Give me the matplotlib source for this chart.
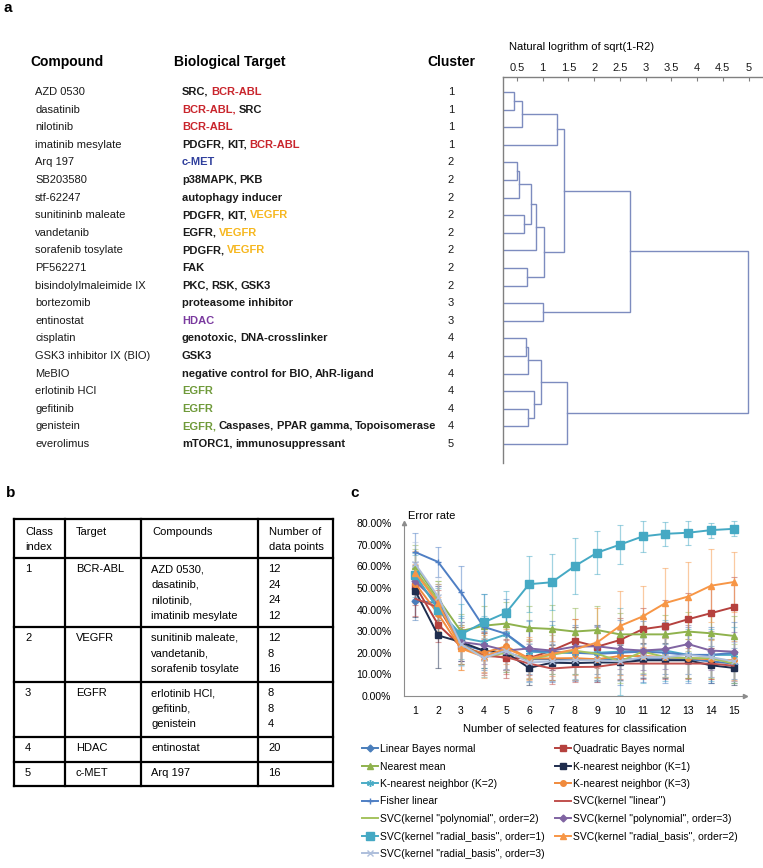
import numpy as np
import matplotlib

matplotlib.use('Agg')
import matplotlib.pyplot as plt

plt.rcParams['font.family'] = ['Liberation Sans', 'DejaVu Sans']
plt.rcParams['font.size'] = 8

W, H = 763, 868

# ---- panel a : compounds, targets, clusters
compounds = ['AZD 0530', 'dasatinib', 'nilotinib', 'imatinib mesylate', 'Arq 197',
             'SB203580', 'stf-62247', 'sunitininb maleate', 'vandetanib',
             'sorafenib tosylate', 'PF562271', 'bisindolylmaleimide IX', 'bortezomib',
             'entinostat', 'cisplatin', 'GSK3 inhibitor IX (BIO)', 'MeBIO',
             'erlotinib HCl', 'gefitinib', 'genistein', 'everolimus']
targets = ['SRC, BCR-ABL', 'BCR-ABL, SRC', 'BCR-ABL', 'PDGFR, KIT, BCR-ABL', 'c-MET',
           'p38MAPK, PKB', 'autophagy inducer', 'PDGFR, KIT, VEGFR', 'EGFR, VEGFR',
           'PDGFR, VEGFR', 'FAK', 'PKC, RSK, GSK3', 'proteasome inhibitor', 'HDAC',
           'genotoxic, DNA-crosslinker', 'GSK3', 'negative control for BIO, AhR-ligand',
           'EGFR', 'EGFR', 'EGFR, Caspases, PPAR gamma, Topoisomerase',
           'mTORC1, immunosuppressant']
highlight = ['BCR-ABL', 'BCR-ABL', 'BCR-ABL', 'BCR-ABL', 'c-MET', None, None, 'VEGFR',
             'VEGFR', 'VEGFR', None, None, None, 'HDAC', None, None, None, 'EGFR',
             'EGFR', 'EGFR', None]
clusters = [1, 1, 1, 1, 2, 2, 2, 2, 2, 2, 2, 2, 3, 3, 4, 4, 4, 4, 4, 4, 5]
target_colors = {'BCR-ABL': '#c9252c', 'c-MET': '#2f3f9c', 'VEGFR': '#f6b71f',
                 'HDAC': '#7a3a9f', 'EGFR': '#6f9a3a'}

# dendrogram merges (children ids, height); ids >= 21 are earlier merges
merge_left = [0, 21, 22, 4, 24, 7, 25, 27, 10, 28, 23, 12, 31, 14, 34, 18, 17, 35, 38, 33]
merge_right = [1, 2, 3, 5, 6, 8, 26, 9, 11, 29, 30, 13, 32, 15, 16, 19, 36, 37, 20, 39]
merge_height = [0.45, 0.60, 1.27, 0.51, 0.55, 0.63, 0.77, 0.87, 0.69, 1.03, 1.41, 1.01,
                2.69, 0.68, 0.72, 0.72, 0.84, 0.97, 1.47, 4.98]
dendro_ticks = [0.5, 1, 1.5, 2, 2.5, 3, 3.5, 4, 4.5, 5]

# ---- panel b : class table
class_index = ['1', '2', '3', '4', '5']
class_target = ['BCR-ABL', 'VEGFR', 'EGFR', 'HDAC', 'c-MET']
class_compounds = [['AZD 0530,', 'dasatinib,', 'nilotinib,', 'imatinib mesylate'],
                   ['sunitinib maleate,', 'vandetanib,', 'sorafenib tosylate'],
                   ['erlotinib HCl,', 'gefitinb,', 'genistein'],
                   ['entinostat'],
                   ['Arq 197']]
class_points = [[12, 24, 24, 12], [12, 8, 16], [8, 8, 4], [20], [16]]

# ---- panel c : error rate (%) vs number of features
n_features = list(range(1, 16))
labels = ['Linear Bayes normal', 'Quadratic Bayes normal', 'Nearest mean',
          'K-nearest neighbor (K=1)', 'K-nearest neighbor (K=2)',
          'K-nearest neighbor (K=3)', 'Fisher linear', 'SVC(kernel "linear")',
          'SVC(kernel "polynomial", order=2)', 'SVC(kernel "polynomial", order=3)',
          'SVC(kernel "radial_basis", order=1)', 'SVC(kernel "radial_basis", order=2)',
          'SVC(kernel "radial_basis", order=3)']
lbn = [44, 43, 24, 21, 20, 17, 17, 17, 17, 17, 17, 17, 17, 16, 15]
qbn = [51, 33, 23, 19.5, 17.5, 17.5, 21, 25.5, 22.8, 25.9, 30.9, 32.4, 35.5, 38.3, 41.1]
nm = [60, 45, 30, 32.5, 33.5, 31.5, 31, 29.8, 30.5, 28.5, 28.5, 28.5, 29.8, 29, 27.8]
knn1 = [48.5, 28, 25, 21, 20, 13, 15.4, 15.2, 15.5, 15.5, 16.5, 16.5, 16.5, 14.2, 13]
knn2 = [55, 41, 27, 25, 28.5, 20.5, 20, 20, 20, 20.5, 21, 21, 19, 19, 19]
knn3 = [52, 38, 22, 20, 23, 17.4, 17.4, 17.5, 17, 18.5, 18.5, 18, 17.5, 17, 16.5]
fisher = [66.5, 62, 48, 32, 28.7, 21, 20.5, 20, 19.5, 20, 20.5, 20, 19, 19, 20]
svc_lin = [45, 41, 24, 18.5, 18, 15, 12.7, 13.4, 13.5, 15, 15, 15, 15, 15, 14]
svc_p2 = [58, 44, 24, 18, 20, 17, 19, 21, 19.5, 16, 20.5, 18, 17.5, 17.5, 15]
svc_p3 = [53, 43, 25, 23.6, 21, 22, 21, 22.8, 23, 21.7, 21, 21.7, 24, 21, 20.5]
svc_r1 = [56, 40, 28.5, 34, 38.6, 51.7, 52.6, 60, 66.3, 70, 73.8, 75, 75.5, 76.7, 77.3]
svc_r2 = [57, 43, 22, 18.2, 22, 17.4, 19.5, 21.5, 24.8, 32.4, 36.8, 43, 46, 51, 52.7]
svc_r3 = [61, 46, 24, 17.6, 21, 15.5, 16, 16.5, 16.5, 16, 18, 18, 19, 18, 16]

lbn_err = [9, 8, 8, 9, 9, 7, 7, 7, 7, 7, 7, 7, 7, 7, 7]
qbn_err = [9, 8, 8, 10, 9, 8, 9, 10, 10, 10, 10, 12, 12, 12, 14]
nm_err = [10, 8, 8, 9, 10, 10, 11, 11, 11, 10, 9, 9, 9, 9, 9]
knn1_err = [12, 15, 9, 8, 8, 8, 8, 8, 8, 8, 8, 8, 8, 8, 8]
knn2_err = [10, 9, 10, 12, 12, 14, 13, 12, 13, 20, 15, 14, 12, 12, 13]
knn3_err = [9, 8, 10, 9, 8, 9, 8, 8, 8, 9, 9, 9, 9, 9, 9]
fisher_err = [9, 7, 12, 15, 16, 14, 14, 13, 13, 15, 14, 14, 13, 13, 14]
svc_lin_err = [8, 8, 9, 8, 8, 7, 7, 7, 7, 7, 7, 7, 7, 7, 7]
svc_p2_err = [10, 9, 9, 9, 9, 9, 9, 11, 11, 10, 10, 9, 9, 9, 9]
svc_p3_err = [9, 8, 9, 9, 9, 9, 9, 9, 9, 9, 9, 9, 9, 9, 9]
svc_r1_err = [10, 12, 14, 13, 10, 13, 13, 13, 10, 9, 7, 5.5, 5.5, 3.5, 3.5]
svc_r2_err = [10, 9, 10, 10, 10, 10, 12, 14, 16, 16, 14, 16, 16, 17, 14]
svc_r3_err = [10, 9, 10, 9, 9, 9, 9, 9, 9, 9, 9, 9, 9, 9, 9]

series = [lbn, qbn, nm, knn1, knn2, knn3, fisher, svc_lin, svc_p2, svc_p3, svc_r1, svc_r2, svc_r3]
errors = [lbn_err, qbn_err, nm_err, knn1_err, knn2_err, knn3_err, fisher_err, svc_lin_err,
          svc_p2_err, svc_p3_err, svc_r1_err, svc_r2_err, svc_r3_err]
colors = ['#4a7ebb', '#b5413e', '#8fb24d', '#1f2d4e', '#4bacc6', '#f08a3c', '#4f7fc4',
          '#c0504d', '#a5c35e', '#8064a2', '#45a9c4', '#f79646', '#aebfdc']
markers = ['D', 's', '^', 's', (6, 2, 0), 'o', '+', None, None, 'D', 's', '^', 'x']
msizes = [3.5, 4.5, 4.5, 4.5, 5, 4, 5, 0, 0, 3.5, 5.5, 4.5, 4.5]


def fx(px):
    return px / W


def fy(py):
    return 1 - py / H


fig = plt.figure(figsize=(W / 100, H / 100), dpi=100, facecolor='w')
ax0 = fig.add_axes([0, 0, 1, 1])
ax0.set_xlim(0, W)
ax0.set_ylim(H, 0)
ax0.axis('off')

# panel labels
ax0.text(4, 8, 'a', fontsize=11, fontweight='bold', va='center')
ax0.text(6, 493, 'b', fontsize=11, fontweight='bold', va='center')
ax0.text(350, 493, 'c', fontsize=11, fontweight='bold', va='center')

# ---- panel a table
row_y = 92 + 17.6 * np.arange(len(compounds))
ax0.text(30, 62, 'Compound', fontsize=10, fontweight='bold', va='center')
ax0.text(174, 62, 'Biological Target', fontsize=10, fontweight='bold', va='center')
ax0.text(427, 62, 'Cluster', fontsize=10, fontweight='bold', va='center')

for y, comp, tgt, hl, cl in zip(row_y, compounds, targets, highlight, clusters):
    ax0.text(35, y, comp, va='center', color='#1a1a1a')
    ax0.text(451, y, str(cl), va='center', ha='center', color='#1a1a1a')
    parts = tgt.split(', ')
    t = None
    for k, p in enumerate(parts):
        s = p + (',' if k < len(parts) - 1 else '')
        c = target_colors[p] if p == hl else '#1a1a1a'
        if t is None:
            t = ax0.text(182, y, s, color=c, fontweight='bold', va='center')
        else:
            t = ax0.annotate(s, xy=(1, 0), xycoords=t, xytext=(2.0, 0),
                             textcoords='offset points', va='bottom', ha='left',
                             color=c, fontweight='bold')

# ---- dendrogram
x_min = 0.23
axd = fig.add_axes([fx(503), fy(463), fx(763) - fx(503), fy(77) - fy(463)])
axd.set_xlim(x_min, 5.28)
axd.set_ylim(463, 77)
pos = list(row_y)
hgt = [x_min] * len(compounds)
for a, b, h in zip(merge_left, merge_right, merge_height):
    axd.plot([hgt[a], h, h, hgt[b]], [pos[a], pos[a], pos[b], pos[b]],
             color='#7d8cbf', lw=1.0, solid_joinstyle='miter')
    pos.append((pos[a] + pos[b]) / 2)
    hgt.append(h)
for s in ['right', 'bottom']:
    axd.spines[s].set_visible(False)
for s in ['top', 'left']:
    axd.spines[s].set_color('#808080')
    axd.spines[s].set_linewidth(1.0)
axd.set_yticks([])
axd.xaxis.tick_top()
axd.set_xticks(dendro_ticks)
axd.set_xticklabels(['%g' % v for v in dendro_ticks])
axd.tick_params(axis='x', direction='in', length=3, color='#808080', pad=3,
                labelsize=8, labelcolor='#1a1a1a')
ax0.text(509, 47, 'Natural logrithm of sqrt(1-R2)', fontsize=8, va='center')

# ---- panel b table
col_x = [14, 65, 141, 258, 333]
row_lines = [519, 558, 627, 682, 737, 762, 786]
for x in col_x:
    ax0.plot([x, x], [row_lines[0], row_lines[-1]], color='k', lw=1.6)
for y in row_lines:
    ax0.plot([col_x[0], col_x[-1]], [y, y], color='k', lw=1.6)
headers = [['Class', 'index'], ['Target'], ['Compounds'], ['Number of', 'data points']]
for x, hdr in zip(col_x[:-1], headers):
    for k, s in enumerate(hdr):
        ax0.text(x + 11, row_lines[0] + 13 + 15.5 * k, s, va='center')
for top, ci, ct, comps, pts in zip(row_lines[1:-1], class_index, class_target,
                                   class_compounds, class_points):
    ax0.text(col_x[0] + 11, top + 11, ci, va='center')
    ax0.text(col_x[1] + 11, top + 11, ct, va='center')
    for k, (cmp_, n) in enumerate(zip(comps, pts)):
        ax0.text(col_x[2] + 10, top + 11 + 15.7 * k, cmp_, va='center')
        ax0.text(col_x[3] + 10, top + 11 + 15.7 * k, str(n), va='center')

# ---- panel c
axc = fig.add_axes([fx(404), fy(696), fx(745) - fx(404), fy(523) - fy(696)])
handles = []
for vals, err, c, m, ms in zip(series, errors, colors, markers, msizes):
    v = np.array(vals) / 100
    e = np.array(err) / 100
    axc.errorbar(n_features, v, yerr=e, fmt='none', ecolor=c, alpha=0.5,
                 elinewidth=0.9, capsize=2, capthick=0.8, clip_on=False, zorder=1)
    ln, = axc.plot(n_features, v, color=c, lw=1.4, marker=m, ms=ms,
                   mew=1.0, zorder=2, clip_on=False)
    handles.append(ln)
axc.set_xlim(0.5, 15.5)
axc.set_ylim(0, 0.8)
axc.set_xticks(n_features)
axc.set_yticks([i / 10 for i in range(9)])
axc.set_yticklabels(['%.2f%%' % (i * 10) for i in range(9)])
axc.tick_params(length=0, labelsize=7.5)
axc.tick_params(axis='y', pad=9)
axc.tick_params(axis='x', pad=7)
for s in ['top', 'right']:
    axc.spines[s].set_visible(False)
for s in ['left', 'bottom']:
    axc.spines[s].set_color('#8c8c8c')
    axc.spines[s].set_linewidth(0.8)
axc.plot(1, 0, '>', color='#8c8c8c', ms=3, transform=axc.transAxes, clip_on=False)
axc.plot(0, 1, '^', color='#8c8c8c', ms=3, transform=axc.transAxes, clip_on=False)
axc.set_xlabel('Number of selected features for classification', fontsize=8, labelpad=6)
ax0.text(408, 516, 'Error rate', fontsize=8, va='center')

order = [0, 2, 4, 6, 8, 10, 12, 1, 3, 5, 7, 9, 11]
fig.legend([handles[i] for i in order], [labels[i] for i in order], ncol=2,
           loc='upper left', bbox_to_anchor=(fx(362), fy(744)), frameon=False,
           fontsize=7.5, handlelength=1.5, handletextpad=0.2, columnspacing=1.0,
           labelspacing=0.72, borderpad=0, borderaxespad=0)

fig.savefig('out.png', dpi=100, facecolor='w')
